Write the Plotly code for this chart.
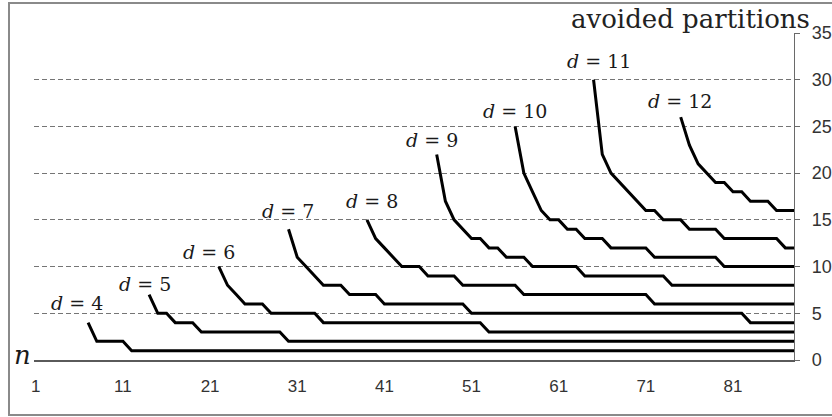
import plotly.graph_objects as go

# Number of avoided partitions against n, one stepped curve per d
d_values = [4, 5, 6, 7, 8, 9, 10, 11, 12]

n_d4 = [7, 8, 11, 12, 88]
v_d4 = [4, 2, 2, 1, 1]

n_d5 = [14, 15, 16, 17, 19, 20, 29, 30, 88]
v_d5 = [7, 5, 5, 4, 4, 3, 3, 2, 2]

n_d6 = [22, 23, 24, 25, 27, 28, 33, 34, 52, 53, 88]
v_d6 = [10, 8, 7, 6, 6, 5, 5, 4, 4, 3, 3]

n_d7 = [30, 31, 32, 33, 34, 36, 37, 40, 41, 50, 51, 82, 83, 88]
v_d7 = [14, 11, 10, 9, 8, 8, 7, 7, 6, 6, 5, 5, 4, 4]

n_d8 = [39, 40, 41, 42, 43, 45, 46, 49, 50, 56, 57, 71, 72, 88]
v_d8 = [15, 13, 12, 11, 10, 10, 9, 9, 8, 8, 7, 7, 6, 6]

n_d9 = [47, 48, 49, 50, 51, 52, 53, 54, 55, 57, 58, 63, 64, 73, 74, 88]
v_d9 = [22, 17, 15, 14, 13, 13, 12, 12, 11, 11, 10, 10, 9, 9, 8, 8]

n_d10 = [56, 57, 58, 59, 60, 61, 62, 63, 64, 66, 67, 71, 72, 79, 80, 88]
v_d10 = [25, 20, 18, 16, 15, 15, 14, 14, 13, 13, 12, 12, 11, 11, 10, 10]

n_d11 = [65, 66, 67, 68, 69, 70, 71, 72, 73, 75, 76, 79, 80, 86, 87, 88]
v_d11 = [30, 22, 20, 19, 18, 17, 16, 16, 15, 15, 14, 14, 13, 13, 12, 12]

n_d12 = [75, 76, 77, 78, 79, 80, 81, 82, 83, 85, 86, 88]
v_d12 = [26, 23, 21, 20, 19, 19, 18, 18, 17, 17, 16, 16]

x_ticks = [1, 11, 21, 31, 41, 51, 61, 71, 81]
y_ticks = [0, 5, 10, 15, 20, 25, 30, 35]

series = [
    (n_d4, v_d4), (n_d5, v_d5), (n_d6, v_d6), (n_d7, v_d7), (n_d8, v_d8),
    (n_d9, v_d9), (n_d10, v_d10), (n_d11, v_d11), (n_d12, v_d12),
]

# where each "d = ..." caption sits (data coordinates)
label_pos = [
    (5.7, 6.1), (13.5, 8.15), (20.9, 11.6), (29.9, 16.0), (39.6, 17.0),
    (46.5, 23.6), (56.0, 26.7), (65.6, 32.05), (74.9, 27.75),
]

# canvas geometry (pixels)
W, H = 832, 417
L, R, T, B = 34, 38, 33, 57
plot_w = W - L - R
plot_h = H - T - B


def px_to_paper_x(px):
    return (px - L) / plot_w


def px_to_paper_y(py):
    return (H - B - py) / plot_h


fig = go.Figure()
for (n, v) in series:
    fig.add_trace(go.Scatter(
        x=n, y=v, mode="lines",
        line=dict(color="#000000", width=3),
        hoverinfo="skip", showlegend=False,
    ))

serif = "DejaVu Serif"
annotations = []
for d, (lx, ly) in zip(d_values, label_pos):
    annotations.append(dict(
        x=lx, y=ly, xref="x", yref="y",
        text=f"<i>d</i> = {d}", showarrow=False,
        xanchor="center", yanchor="middle",
        font=dict(family=serif, size=19, color="#1a1a1a"),
    ))

annotations.append(dict(
    x=px_to_paper_x(22), y=px_to_paper_y(355), xref="paper", yref="paper",
    text="<i>n</i>", showarrow=False, xanchor="center", yanchor="middle",
    font=dict(family=serif, size=26, color="#1a1a1a"),
))
annotations.append(dict(
    x=px_to_paper_x(812), y=px_to_paper_y(19), xref="paper", yref="paper",
    text="avoided partitions", showarrow=False, xanchor="right", yanchor="middle",
    font=dict(family=serif, size=26, color="#222222"),
))

# outer frame around the whole figure
shapes = [dict(
    type="rect", xref="paper", yref="paper",
    x0=px_to_paper_x(9), x1=px_to_paper_x(845),
    y0=px_to_paper_y(415), y1=px_to_paper_y(3),
    line=dict(color="#8a8a8a", width=2), fillcolor="rgba(0,0,0,0)",
    layer="above",
)]

# n = 1 sits at ~35.8 px, n = 88 on the right axis
px_per_unit = (W - R - 35.8) / 87.0
x_left = 1 - (35.8 - L) / px_per_unit

fig.update_layout(
    width=W, height=H,
    margin=dict(l=L, r=R, t=T, b=B, pad=0, autoexpand=False),
    paper_bgcolor="white", plot_bgcolor="white",
    annotations=annotations, shapes=shapes,
    xaxis=dict(
        range=[x_left, 88], tickvals=x_ticks, ticktext=[str(t) for t in x_ticks],
        showgrid=False, zeroline=False, automargin=False,
        showline=True, linecolor="#5a5a5a", linewidth=2,
        ticks="outside", ticklen=0, tickcolor="rgba(0,0,0,0)",
        ticklabelstandoff=10,
        tickfont=dict(family="Liberation Sans", size=17, color="#333333"),
    ),
    yaxis=dict(
        range=[0, 35], tickvals=y_ticks, side="right", automargin=False,
        showgrid=True, gridcolor="#757575", gridwidth=1.2, griddash="5px,3px",
        zeroline=False,
        showline=True, linecolor="#6a6a6a", linewidth=1.3,
        ticks="outside", ticklen=5, tickcolor="#6a6a6a", tickwidth=1,
        ticklabelstandoff=8,
        tickfont=dict(family="Liberation Sans", size=18, color="#333333"),
    ),
)

fig.write_html("out.html")
